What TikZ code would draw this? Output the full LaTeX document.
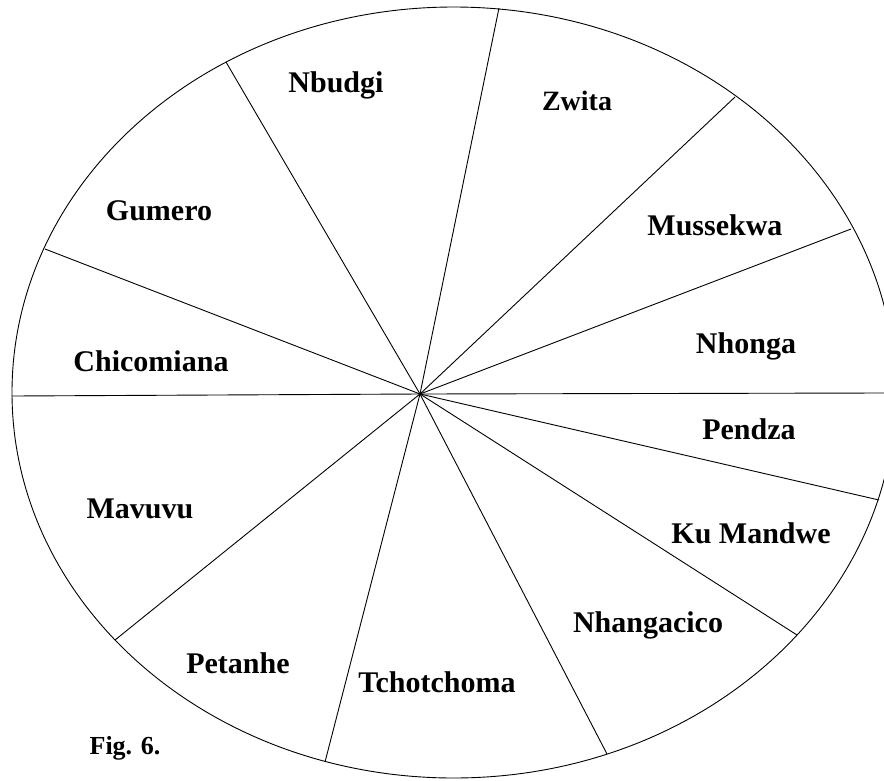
\documentclass[tikz,border=0pt]{standalone}
\usepackage{fontspec}
\setmainfont{Liberation Serif}
\begin{document}
\begin{tikzpicture}[x=1pt,y=-1pt,
  spoke/.style={line width=0.9pt,black},
  rim/.style={line width=0.9pt,black},
  lbl/.style={anchor=base,inner sep=0pt,font=\fontsize{30}{36}\selectfont\bfseries},
  lblsm/.style={anchor=base,inner sep=0pt,font=\fontsize{28}{34}\selectfont\bfseries},
  figlbl/.style={anchor=base,inner sep=0pt,font=\fontsize{26}{31}\selectfont\bfseries}]
\useasboundingbox (0,0) rectangle (884,780);
\fill[white] (0,0) rectangle (884,780);
\begin{scope}
\clip (0,0) rectangle (884,780);
\draw[rim] (453.7,392.5) ellipse [x radius=441.7, y radius=385.5];
\coordinate (hub) at (420,394);
\coordinate (r1) at (499,8);
\coordinate (r2) at (735,97);
\coordinate (r3) at (851,229);
\coordinate (r4) at (884,393);
\coordinate (r5) at (879,500);
\coordinate (r6) at (797,635);
\coordinate (r7) at (607,754);
\coordinate (r8) at (325,762);
\coordinate (r9) at (115,640);
\coordinate (r10) at (12,396);
\coordinate (r11) at (45,249);
\coordinate (r12) at (226,62);
\foreach \r in {r1,r2,r3,r4,r5,r6,r7,r8,r9,r10,r11,r12}
  \draw[spoke] (hub) -- (\r);
\end{scope}
\node[lbl] (nbudgi) at (336,92) {Nbudgi};
\node[lblsm] (zwita) at (577,110) {Zwita};
\node[lbl] (mussekwa) at (715,235) {Mussekwa};
\node[lbl] (nhonga) at (746,353) {Nhonga};
\node[lbl] (pendza) at (749,439) {Pendza};
\node[lbl] (kumandwe) at (751,543) {Ku Mandwe};
\node[lbl] (nhangacico) at (648,632) {Nhangacico};
\node[lbl] (tchotchoma) at (437,692) {Tchotchoma};
\node[lbl] (petanhe) at (238,673) {Petanhe};
\node[lbl] (mavuvu) at (140,518) {Mavuvu};
\node[lbl] (chicomiana) at (151,371) {Chicomiana};
\node[lbl] (gumero) at (159,220) {Gumero};
\node[figlbl] (fig) at (125,754) {Fig. 6.};
\end{tikzpicture}
\end{document}
